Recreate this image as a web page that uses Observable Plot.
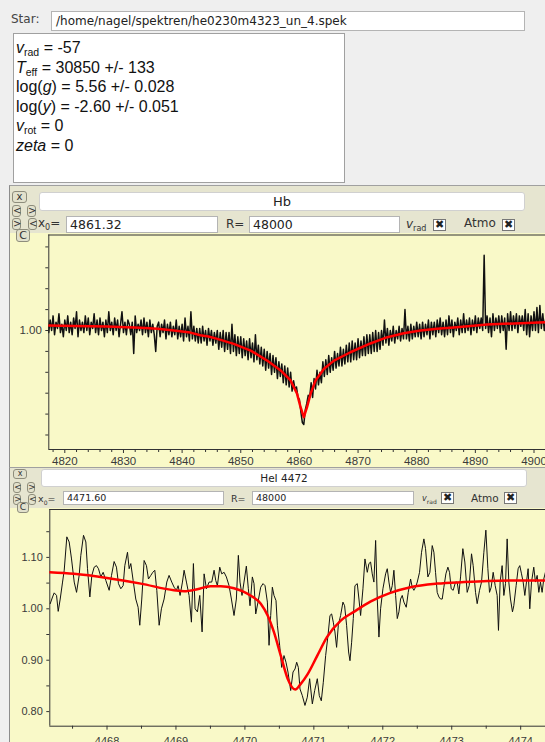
<!DOCTYPE html>
<html>
<head>
<meta charset="utf-8">
<script src="https://cdn.jsdelivr.net/npm/d3@7"></script>
<script src="https://cdn.jsdelivr.net/npm/@observablehq/plot@0.6"></script>
<style>
  body { margin: 0; background: #efefef; }
  #app { position: relative; width: 545px; height: 742px; overflow: hidden; background: #efefef;
         font-family: "DejaVu Sans", sans-serif; color: #222; }
  .abs { position: absolute; white-space: nowrap; }
  .field { position: absolute; background: #fff; border: 1px solid #b4b4b4; box-sizing: border-box;
           white-space: nowrap; overflow: hidden; }
  .btn { position: absolute; box-sizing: border-box; border: 1px solid #8e8d7c; border-radius: 3px;
         background: #e2e1cc; text-align: center; color: #333; }
  .chk { position: absolute; box-sizing: border-box; width: 13px; height: 12px; background: #fff;
         border: 1px solid #777; font-size: 11px; line-height: 10px; text-align: center; font-weight: bold; }
  .panel { position: absolute; left: 9px; width: 536px; background: #e6e5d0; border-left: 1px solid #8c8c8c;
           border-top: 1px solid #a0a0a0; box-sizing: border-box; }
  .params { position: absolute; left: 13px; top: 33px; width: 332px; height: 150px; background: #fff;
            border: 1px solid #a0a0a0; box-sizing: border-box; padding: 4px 0 0 2px;
            font-family: "Liberation Sans", Arial, sans-serif; font-size: 16px; line-height: 19.5px; color: #111; }
  .params sub { font-size: 10.5px; vertical-align: -3px; line-height: 0; }
  .plot { position: absolute; left: 10px; }
</style>
</head>
<body>
<div id="app">
  <div class="abs" style="left:11px;top:12px;font-size:12px;color:#444">Star:</div>
  <div class="field" style="left:51px;top:11px;width:474px;height:20px;font-size:12px;line-height:18px;padding-left:4px">/home/nagel/spektren/he0230m4323_un_4.spek</div>
  <div class="params">
    <div><i>v</i><sub>rad</sub> = -57</div>
    <div><i>T</i><sub>eff</sub> = 30850 +/- 133</div>
    <div>log(<i>g</i>) = 5.56 +/- 0.028</div>
    <div>log(<i>y</i>) = -2.60 +/- 0.051</div>
    <div><i>v</i><sub>rot</sub> = 0</div>
    <div><i>zeta</i> = 0</div>
  </div>

  <!-- H beta panel -->
  <div class="panel" style="top:185px;height:282px"></div>
  <div id="hb" class="plot" style="top:233px"></div>
  <div class="btn" style="left:12px;top:191px;width:15px;height:12px;font-size:10px;line-height:10px">x</div>
  <div class="btn" style="left:12px;top:205px;width:9px;height:12px;font-size:10px;line-height:10px">&lt;</div>
  <div class="btn" style="left:27px;top:205px;width:9px;height:12px;font-size:10px;line-height:10px">&gt;</div>
  <div class="btn" style="left:12px;top:218px;width:9px;height:12px;font-size:10px;line-height:10px">&gt;</div>
  <div class="btn" style="left:28px;top:218px;width:9px;height:12px;font-size:10px;line-height:10px">&lt;</div>
  <div class="btn" style="left:16px;top:229px;width:14px;height:13px;font-size:11px;line-height:11px">C</div>
  <div class="field" style="left:39px;top:192px;width:486px;height:19px;border-radius:3px;border-color:#d0d0d0;text-align:center;font-size:13px;line-height:17px">Hb</div>
  <div class="abs" style="left:38px;top:216px;font-size:12px;color:#333">x<sub style="font-size:8px">0</sub>=</div>
  <div class="field" style="left:66px;top:216px;width:152px;height:17px;font-size:12.5px;line-height:15px;padding-left:3px">4861.32</div>
  <div class="abs" style="left:226px;top:217px;font-size:12px;color:#333">R=</div>
  <div class="field" style="left:249px;top:216px;width:151px;height:17px;font-size:12.5px;line-height:15px;padding-left:3px">48000</div>
  <div class="abs" style="left:406px;top:217px;font-size:12px;color:#333"><i>v</i><sub style="font-size:8px">rad</sub></div>
  <div class="chk" style="left:433px;top:219px">✖</div>
  <div class="abs" style="left:464px;top:216px;font-size:12px;color:#333">Atmo</div>
  <div class="chk" style="left:502px;top:219px">✖</div>

  <!-- He I 4472 panel -->
  <div class="panel" style="top:467px;height:275px"></div>
  <div id="hei" class="plot" style="top:508px"></div>
  <div class="btn" style="left:13px;top:469px;width:14px;height:10px;font-size:8px;line-height:8px">x</div>
  <div class="btn" style="left:13px;top:482px;width:8px;height:11px;font-size:9px;line-height:9px">&lt;</div>
  <div class="btn" style="left:27px;top:482px;width:8px;height:11px;font-size:9px;line-height:9px">&gt;</div>
  <div class="btn" style="left:13px;top:494px;width:8px;height:11px;font-size:9px;line-height:9px">&gt;</div>
  <div class="btn" style="left:28px;top:494px;width:8px;height:11px;font-size:9px;line-height:9px">&lt;</div>
  <div class="btn" style="left:17px;top:502px;width:12px;height:11px;font-size:9px;line-height:9px">C</div>
  <div class="field" style="left:41px;top:469px;width:486px;height:18px;border-radius:3px;border-color:#d0d0d0;text-align:center;font-size:10.5px;line-height:16px">HeI 4472</div>
  <div class="abs" style="left:38px;top:493px;font-size:9.5px;color:#333">x<sub style="font-size:6px">0</sub>=</div>
  <div class="field" style="left:63px;top:491px;width:161px;height:14px;font-size:9.5px;line-height:12px;padding-left:3px">4471.60</div>
  <div class="abs" style="left:231px;top:493px;font-size:9.5px;color:#333">R=</div>
  <div class="field" style="left:252px;top:491px;width:162px;height:14px;font-size:9.5px;line-height:12px;padding-left:3px">48000</div>
  <div class="abs" style="left:422px;top:494px;font-size:8px;color:#333"><i>v</i><sub style="font-size:6px">rad</sub></div>
  <div class="chk" style="left:441px;top:492px">✖</div>
  <div class="abs" style="left:471px;top:492px;font-size:10.5px;color:#333">Atmo</div>
  <div class="chk" style="left:504px;top:492px">✖</div>
</div>

<script>
// ---- H beta: observed spectrum, sampled every 0.25 Å from 4817.00 Å ----
const hbStart = 4817.0;
const hbStep = 0.25;
const hbFlux = [
  1.06,0.99,1.05,1.00, 1.07,0.98,1.04,1.01, 1.08,0.99,1.03,0.97, 1.05,1.00,1.07,0.99,
  1.04,0.98,1.06,1.01, 1.09,0.97,1.05,1.00, 1.04,0.99,1.07,1.00, 1.06,0.98,1.04,1.01,
  1.08,0.99,1.05,0.98, 1.06,1.00,1.04,0.97, 1.05,0.99,1.09,1.00, 1.04,0.98,1.06,1.00,
  1.05,0.97,1.03,1.09, 0.99,1.04,0.98,1.05, 1.03,0.98,1.04,0.89, 1.07,0.99,1.03,1.00,
  1.05,0.98,1.06,0.99, 1.04,0.97,1.05,0.99, 1.03,0.98,0.90,1.02, 1.04,0.97,1.03,0.99,
  1.05,0.96,1.03,0.98, 1.04,0.97,1.02,0.98, 1.05,0.96,1.02,0.97, 1.03,0.95,1.06,0.97,
  1.02,0.95,1.09,0.96, 1.02,0.95,1.01,0.94, 1.01,0.94,1.02,0.95, 1.00,0.93,1.01,0.95,
  1.00,0.93,0.99,0.94, 1.00,0.91,0.99,0.92, 1.00,0.90,0.99,0.91, 0.99,0.89,1.03,0.90,
  0.98,0.88,0.97,0.89, 0.97,0.87,0.96,0.88, 0.95,0.86,0.96,0.87, 0.94,0.85,0.98,0.86,
  0.93,0.84,0.92,0.83, 0.91,0.81,0.90,0.82, 0.89,0.79,0.88,0.80, 0.87,0.77,0.85,0.78,
  0.84,0.75,0.83,0.74, 0.82,0.73,0.80,0.71, 0.76,0.72,0.73,0.68, 0.67,0.61,0.56,0.55,
  0.62,0.65,0.69,0.68, 0.75,0.68,0.77,0.72, 0.81,0.74,0.80,0.75, 0.85,0.78,0.86,0.79,
  0.88,0.80,0.87,0.81, 0.90,0.82,0.89,0.83, 0.92,0.83,0.91,0.84, 0.93,0.85,0.94,0.85,
  0.95,0.86,0.94,0.86, 0.96,0.87,0.95,0.88, 0.97,0.88,0.98,0.89, 0.98,0.89,0.99,0.90,
  1.00,0.90,0.99,0.91, 1.00,0.93,1.05,0.94, 1.01,0.93,1.00,0.95, 1.02,0.94,1.00,0.96,
  1.02,0.95,1.01,0.96, 1.10,0.96,1.02,0.95, 1.03,0.96,1.02,0.97, 1.04,0.97,1.03,0.96,
  1.04,0.97,1.03,0.98, 1.05,0.96,1.04,0.98, 1.04,0.97,1.05,0.99, 1.06,0.98,1.04,0.97,
  1.05,0.98,1.07,0.99, 1.05,0.97,1.04,1.00, 1.06,0.98,1.05,0.99, 1.08,0.99,1.05,1.00,
  1.06,0.98,1.05,1.00, 1.07,0.99,1.06,1.01, 1.06,1.00,1.36,1.01, 1.07,0.99,1.06,0.97,
  1.08,1.00,1.06,1.01, 1.07,0.99,1.07,1.00, 1.06,0.91,1.08,1.00, 1.09,1.00,1.07,1.01,
  1.08,0.99,1.07,1.02, 1.07,1.00,1.10,0.98, 1.08,0.97,1.07,1.00, 1.09,1.00,1.11,0.99,
  1.12,1.01,1.08,1.00, 1.06
];

// ---- H beta: model fit ----
const hbModelWave = [4817.3, 4821.5, 4827.2, 4832.9, 4835.8, 4838.6, 4841.4, 4843.1, 4844.5, 4846.0,
  4848.8, 4851.7, 4854.5, 4856.8, 4858.5, 4859.6, 4860.2, 4860.75, 4861.3, 4861.9, 4862.75, 4864.2,
  4865.9, 4868.7, 4872.1, 4875.0, 4877.8, 4880.65, 4883.5, 4886.3, 4889.2, 4892.0, 4894.9, 4897.7, 4901.96];
const hbModelFlux = [1.024, 1.022, 1.019, 1.013, 1.008, 1.000, 0.990, 0.977, 0.971, 0.960,
  0.936, 0.904, 0.856, 0.809, 0.761, 0.697, 0.633, 0.585, 0.633, 0.697, 0.761, 0.817,
  0.856, 0.896, 0.938, 0.968, 0.987, 1.000, 1.008, 1.014, 1.021, 1.029, 1.032, 1.035, 1.040];

// H beta axis ticks
const hbXLabels = [4820, 4830, 4840, 4850, 4860, 4870, 4880, 4890, 4900];
const hbXMinor = [4818, 4822, 4824, 4826, 4828, 4832, 4834, 4836, 4838, 4842, 4844, 4846, 4848,
  4852, 4854, 4856, 4858, 4862, 4864, 4866, 4868, 4872, 4874, 4876, 4878, 4882, 4884, 4886, 4888,
  4892, 4894, 4896, 4898];
const hbYTicks = [0.5, 0.6, 0.7, 0.8, 0.9, 1.0, 1.1, 1.2, 1.3, 1.4];

// ---- He I 4472: observed spectrum [wavelength, flux] ----
const heiObserved = [
  [4467.176,1.010],[4467.210,1.023],[4467.234,1.031],[4467.268,1.026],[4467.292,0.995],[4467.321,1.019],
  [4467.355,1.052],[4467.379,1.075],[4467.417,1.140],[4467.451,1.130],[4467.485,1.097],[4467.524,1.052],
  [4467.558,1.032],[4467.596,1.065],[4467.620,1.104],[4467.659,1.143],[4467.693,1.130],[4467.717,1.078],
  [4467.751,1.023],[4467.780,1.065],[4467.814,1.081],[4467.847,1.084],[4467.876,1.078],[4467.910,1.062],
  [4467.944,1.071],[4467.983,1.055],[4468.031,1.036],[4468.065,1.065],[4468.103,1.092],[4468.137,1.081],
  [4468.166,1.049],[4468.200,1.039],[4468.234,1.045],[4468.258,1.084],[4468.297,1.110],[4468.321,1.078],
  [4468.345,1.088],[4468.379,1.055],[4468.417,1.019],[4468.451,1.003],[4468.475,0.968],[4468.504,1.019],
  [4468.538,1.094],[4468.572,1.084],[4468.601,1.058],[4468.635,1.065],[4468.664,1.071],[4468.693,1.075],
  [4468.722,1.036],[4468.756,0.968],[4468.789,1.000],[4468.828,1.019],[4468.867,1.052],[4468.900,1.065],
  [4468.939,1.052],[4468.973,1.042],[4469.007,1.036],[4469.031,1.045],[4469.060,1.026],[4469.094,1.052],
  [4469.118,1.075],[4469.152,1.052],[4469.190,1.026],[4469.224,0.974],[4469.253,1.088],[4469.277,1.000],
  [4469.311,0.994],[4469.345,1.026],[4469.379,0.955],[4469.408,1.068],[4469.442,1.039],[4469.480,1.052],
  [4469.519,1.052],[4469.553,1.075],[4469.577,1.055],[4469.601,1.045],[4469.635,1.081],[4469.664,1.068],
  [4469.698,1.071],[4469.731,1.062],[4469.770,1.045],[4469.804,1.019],[4469.842,0.987],[4469.876,1.019],
  [4469.905,1.104],[4469.929,1.052],[4469.958,1.026],[4469.987,1.052],[4470.021,1.083],[4470.050,1.039],
  [4470.074,1.006],[4470.108,1.062],[4470.132,1.049],[4470.157,0.990],[4470.190,1.013],[4470.229,1.042],
  [4470.263,1.049],[4470.292,1.045],[4470.326,1.013],[4470.350,0.929],[4470.374,0.987],[4470.398,1.042],
  [4470.422,1.026],[4470.451,1.016],[4470.471,0.968],[4470.504,0.929],[4470.533,0.886],[4470.567,0.909],
  [4470.596,0.896],[4470.625,0.877],[4470.664,0.841],[4470.698,0.877],[4470.727,0.883],[4470.751,0.896],
  [4470.775,0.886],[4470.799,0.844],[4470.833,0.831],[4470.871,0.812],[4470.905,0.828],[4470.939,0.864],
  [4470.978,0.815],[4471.012,0.841],[4471.050,0.864],[4471.079,0.831],[4471.108,0.821],[4471.137,0.857],
  [4471.171,0.909],[4471.205,0.948],[4471.234,0.987],[4471.258,0.990],[4471.282,0.974],[4471.306,0.955],
  [4471.330,0.925],[4471.355,0.968],[4471.388,0.987],[4471.422,1.013],[4471.446,1.006],[4471.475,0.968],
  [4471.504,0.916],[4471.524,0.899],[4471.548,0.935],[4471.572,0.981],[4471.596,1.045],[4471.630,1.049],
  [4471.654,1.019],[4471.678,0.987],[4471.712,1.039],[4471.741,1.097],[4471.775,1.071],[4471.799,1.088],
  [4471.823,1.091],[4471.847,1.068],[4471.871,1.052],[4471.896,1.133],[4471.920,1.019],[4471.944,0.945],
  [4471.968,1.000],[4472.002,1.039],[4472.041,1.068],[4472.065,1.078],[4472.089,1.052],[4472.113,1.032],
  [4472.137,1.045],[4472.161,1.075],[4472.186,1.026],[4472.210,0.981],[4472.234,0.994],[4472.258,1.019],
  [4472.282,1.026],[4472.306,1.013],[4472.340,1.003],[4472.369,1.032],[4472.403,1.058],[4472.427,1.042],
  [4472.451,1.036],[4472.475,1.042],[4472.500,1.052],[4472.533,1.071],[4472.562,1.110],[4472.596,1.136],
  [4472.620,1.117],[4472.654,1.062],[4472.683,1.071],[4472.717,1.123],[4472.741,1.110],[4472.765,1.071],
  [4472.789,1.032],[4472.814,1.023],[4472.838,1.019],[4472.862,1.019],[4472.886,1.042],[4472.915,1.068],
  [4472.944,1.081],[4472.968,1.071],[4472.992,1.039],[4473.021,1.036],[4473.055,1.052],[4473.079,1.052],
  [4473.103,1.029],[4473.128,1.062],[4473.161,1.117],[4473.190,1.091],[4473.224,1.032],[4473.253,1.045],
  [4473.287,1.107],[4473.311,1.084],[4473.345,1.032],[4473.369,1.010],[4473.403,1.036],[4473.432,1.052],
  [4473.466,1.110],[4473.495,1.153],[4473.524,1.078],[4473.548,1.032],[4473.572,1.042],[4473.601,1.071],
  [4473.630,1.045],[4473.659,1.026],[4473.678,0.958],[4473.702,1.052],[4473.731,1.084],[4473.756,1.026],
  [4473.780,1.049],[4473.804,1.136],[4473.828,1.052],[4473.852,1.019],[4473.881,0.994],[4473.900,1.006],
  [4473.934,1.045],[4473.963,1.078],[4473.987,1.084],[4474.012,1.068],[4474.036,1.052],[4474.060,1.026],
  [4474.084,1.052],[4474.108,1.078],[4474.132,1.000],[4474.157,1.052],[4474.190,1.081],[4474.214,1.052],
  [4474.239,1.065],[4474.263,1.032],[4474.287,1.052],[4474.311,1.032],[4474.335,1.058],[4474.359,1.071]
];

// ---- He I 4472: model fit ----
const heiModelWave = [4467.17, 4467.52, 4468.0, 4468.49, 4468.97, 4469.12, 4469.31, 4469.5, 4469.65,
  4469.84, 4470.08, 4470.23, 4470.33, 4470.42, 4470.52, 4470.62, 4470.73, 4470.81, 4470.91, 4471.05,
  4471.19, 4471.39, 4471.58, 4471.82, 4472.11, 4472.40, 4472.79, 4473.18, 4473.52, 4474.0, 4474.36];
const heiModelFlux = [1.071, 1.068, 1.060, 1.049, 1.036, 1.034, 1.038, 1.044, 1.044,
  1.040, 1.026, 1.010, 0.987, 0.955, 0.909, 0.864, 0.843, 0.854, 0.873, 0.909,
  0.945, 0.977, 0.994, 1.014, 1.031, 1.042, 1.049, 1.052, 1.054, 1.055, 1.055];

// He I axis ticks
const heiXLabels = [4468, 4469, 4470, 4471, 4472, 4473, 4474];
const heiXMinor = [4467.5, 4468.5, 4469.5, 4470.5, 4471.5, 4472.5, 4473.5];
const heiYLabels = [0.80, 0.90, 1.00, 1.10];
const heiYMinor = [0.85, 0.95, 1.05, 1.15];

const hbObserved = hbFlux.map((f, i) => ({wave: hbStart + i * hbStep, flux: f}));
const hbModel = hbModelWave.map((w, i) => ({wave: w, flux: hbModelFlux[i]}));
const heiObs = heiObserved.map(([w, f]) => ({wave: w, flux: f}));
const heiModel = heiModelWave.map((w, i) => ({wave: w, flux: heiModelFlux[i]}));

const axisColor = "#333";
const plotBg = "#f9f9c8";

function spectrumPanel({obs, model, xDomain, yDomain, height, marginLeft, marginTop, marginBottom,
                        xLabels, xMinor, xFormat, yTicks, yMinor, yFormat, labelPadX, fontSize,
                        obsWidth, modelCurve}) {
  return Plot.plot({
    width: 535, height, marginLeft, marginRight: 0, marginTop, marginBottom,
    style: {background: plotBg, fontFamily: "'Liberation Sans', Arial, sans-serif", fontSize: fontSize + "px", color: "#3a3a3a", overflow: "hidden"},
    x: {domain: xDomain},
    y: {domain: yDomain},
    marks: [
      Plot.ruleX([xDomain[0]], {stroke: axisColor}),
      Plot.ruleY([yDomain[0]], {stroke: axisColor}),
      Plot.ruleY([yDomain[1]], {stroke: axisColor}),
      Plot.axisX({ticks: xLabels, tickSize: 4, tickPadding: labelPadX, tickFormat: xFormat, label: null, stroke: axisColor}),
      Plot.axisX({ticks: xMinor, tickSize: 3, tickFormat: () => "", label: null, stroke: axisColor}),
      Plot.axisY({ticks: yTicks, tickSize: 3, tickPadding: 4, tickFormat: yFormat, label: null, stroke: axisColor}),
      ...(yMinor ? [Plot.axisY({ticks: yMinor, tickSize: 3, tickFormat: () => "", label: null, stroke: axisColor})] : []),
      Plot.line(obs, {x: "wave", y: "flux", stroke: "#111", strokeWidth: obsWidth, clip: true}),
      Plot.line(model, {x: "wave", y: "flux", stroke: "#f00", strokeWidth: 2.5, curve: modelCurve, clip: true})
    ]
  });
}

document.getElementById("hb").append(spectrumPanel({
  obs: hbObserved, model: hbModel,
  xDomain: [4817.27, 4901.96], yDomain: [0.4306, 1.457],
  height: 234, marginLeft: 38.3, marginTop: 1.5, marginBottom: 18,
  xLabels: hbXLabels, xMinor: hbXMinor, xFormat: d => String(d),
  yTicks: hbYTicks, yMinor: null, yFormat: d => (Math.abs(d - 1) < 1e-9 ? "1.00" : ""),
  labelPadX: 3, fontSize: 11.5, obsWidth: 1.5, modelCurve: "linear"
}));

document.getElementById("hei").append(spectrumPanel({
  obs: heiObs, model: heiModel,
  xDomain: [4467.17, 4474.36], yDomain: [0.7716, 1.1932],
  height: 234, marginLeft: 39.3, marginTop: 1, marginBottom: 16.3,
  xLabels: heiXLabels, xMinor: heiXMinor, xFormat: d => String(d),
  yTicks: heiYLabels, yMinor: heiYMinor, yFormat: d => d.toFixed(2),
  labelPadX: 7, fontSize: 11, obsWidth: 1, modelCurve: "monotone-x"
}));
</script>
</body>
</html>
